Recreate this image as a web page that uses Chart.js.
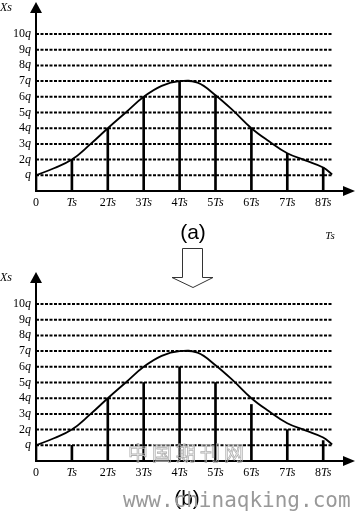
<!DOCTYPE html>
<html><head><meta charset="utf-8">
<script src="https://cdn.jsdelivr.net/npm/chart.js@4"></script>
<style>
html,body{margin:0;padding:0;background:#fff;width:355px;height:511px;overflow:hidden}
canvas{position:absolute;left:0;top:0}
</style></head><body>
<canvas id="ca" width="355" height="511"></canvas>
<canvas id="cb" width="355" height="511"></canvas>
<script>
// ---- data ----
const sampleTimes = [0, 1, 2, 3, 4, 5, 6, 7, 8];
const xTickNums = ['0', '', '2', '3', '4', '5', '6', '7', '8'];
const xTickUnit = ['', 'Ts', 'Ts', 'Ts', 'Ts', 'Ts', 'Ts', 'Ts', 'Ts'];
const yLevels = [1, 2, 3, 4, 5, 6, 7, 8, 9, 10];
const yTickNums = ['', '2', '3', '4', '5', '6', '7', '8', '9', '10'];
const yTickUnit = 'q';
const curveX = [0, 0.5, 1, 1.5, 2, 2.5, 3, 3.5, 4, 4.5, 5, 5.5, 6, 6.5, 7, 7.5, 8, 8.25];
const curveY = [1, 1.45, 2, 2.95, 4, 5, 6, 6.7, 7, 6.9, 6.1, 5.1, 4, 3.15, 2.4, 1.95, 1.5, 1.05];
const samplesA = [1, 2, 4, 6, 7, 6.1, 4, 2.4, 1.5];
const samplesB = [1, 1, 4, 5, 6, 5, 3.6, 2, 1.3];
const gridEnd = 8.25;

const SERIF = '"Liberation Serif", "DejaVu Serif", serif';

function axesPlugin(extra) {
  return {
    id: 'axesDeco',
    afterDatasetsDraw(chart) {
      const ctx = chart.ctx, xs = chart.scales.x, ys = chart.scales.y, ca = chart.chartArea;
      const x0 = xs.getPixelForValue(0), y0 = ys.getPixelForValue(0);
      ctx.save();
      ctx.strokeStyle = '#000'; ctx.fillStyle = '#000'; ctx.lineWidth = 2;
      // y axis
      ctx.beginPath(); ctx.moveTo(x0, y0 + 1); ctx.lineTo(x0, ca.top + 10); ctx.stroke();
      ctx.beginPath(); ctx.moveTo(x0, ca.top); ctx.lineTo(x0 - 6, ca.top + 11); ctx.lineTo(x0 + 6, ca.top + 11); ctx.closePath(); ctx.fill();
      // x axis
      ctx.beginPath(); ctx.moveTo(x0 - 1, y0); ctx.lineTo(ca.right - 10, y0); ctx.stroke();
      ctx.beginPath(); ctx.moveTo(ca.right, y0); ctx.lineTo(ca.right - 12, y0 - 5); ctx.lineTo(ca.right - 12, y0 + 5); ctx.closePath(); ctx.fill();
      // y tick labels
      const fUp = '12px ' + SERIF, fIt = 'italic 12px ' + SERIF;
      ctx.textBaseline = 'alphabetic';
      yLevels.forEach((l, i) => {
        const y = ys.getPixelForValue(l) + 3;
        ctx.font = fIt; const wq = ctx.measureText(yTickUnit).width;
        ctx.textAlign = 'left'; ctx.fillText(yTickUnit, 31 - wq, y);
        ctx.font = fUp; ctx.textAlign = 'right'; ctx.fillText(yTickNums[i], 31 - wq, y);
      });
      // x tick labels
      sampleTimes.forEach((t, i) => {
        const cx = xs.getPixelForValue(t), y = y0 + 15;
        ctx.font = fUp; const wn = ctx.measureText(xTickNums[i]).width;
        ctx.font = fIt; const wu = ctx.measureText(xTickUnit[i]).width;
        const sx = cx - (wn + wu) / 2;
        ctx.textAlign = 'left';
        ctx.font = fUp; ctx.fillText(xTickNums[i], sx, y);
        ctx.font = fIt; ctx.fillText(xTickUnit[i], sx + wn, y);
      });
      // axis title
      ctx.font = fIt; ctx.textAlign = 'left';
      ctx.fillText('Xs', 0, ca.top + 9);
      if (extra) extra(ctx, chart);
      ctx.restore();
    }
  };
}

function makeChart(id, samples, padTop, padBottom, extra) {
  const datasets = [];
  datasets.push({
    type: 'line', label: 'curve', data: curveX.map((x, i) => ({x, y: curveY[i]})),
    borderColor: '#000', borderWidth: 1.8, pointRadius: 0, fill: false,
    tension: 0.4, order: 1
  });
  datasets.push({
    type: 'bar', label: 'samples', data: samples.map((v, i) => ({x: sampleTimes[i], y: v})),
    backgroundColor: '#000', borderWidth: 0, barThickness: 2, grouped: false, order: 2
  });
  yLevels.forEach(l => datasets.push({
    type: 'line', label: 'g' + l, data: [{x: 0, y: l}, {x: gridEnd, y: l}],
    borderColor: '#000', borderWidth: 2, borderDash: [3, 1.5], pointRadius: 0, fill: false, order: 3
  }));
  return new Chart(document.getElementById(id), {
    type: 'line',
    data: {datasets},
    options: {
      responsive: false, animation: false, events: [],
      layout: {padding: {left: 36, right: 0, top: padTop, bottom: padBottom}},
      plugins: {legend: {display: false}, tooltip: {enabled: false}},
      scales: {
        x: {type: 'linear', min: 0, max: 8.886, display: false, offset: false},
        y: {type: 'linear', min: 0, max: 12.04, display: false}
      }
    },
    plugins: [axesPlugin(extra)]
  });
}

makeChart('ca', samplesA, 2, 320, (ctx) => {
  ctx.font = '21px "Liberation Sans", sans-serif'; ctx.textAlign = 'center';
  ctx.fillText('(a)', 193, 239);
  ctx.font = 'italic 11px ' + SERIF;
  ctx.fillText('Ts', 330, 239);
  // hollow arrow
  ctx.lineWidth = 1; ctx.strokeStyle = '#333';
  ctx.beginPath();
  ctx.moveTo(182.5, 248.5); ctx.lineTo(202.5, 248.5); ctx.lineTo(202.5, 277.5);
  ctx.lineTo(213, 277.5); ctx.lineTo(193, 287.5); ctx.lineTo(172, 277.5);
  ctx.lineTo(182.5, 277.5); ctx.closePath(); ctx.stroke();
});

makeChart('cb', samplesB, 272, 50, (ctx) => {
  ctx.textAlign = 'left';
  ctx.strokeStyle = '#b0b0b0'; ctx.lineWidth = 0.8;
  ctx.font = '20px "Noto Sans CJK SC", sans-serif';
  try { ctx.letterSpacing = '4px'; } catch (e) {}
  ctx.strokeText('中国期刊网', 128, 461);
  try { ctx.letterSpacing = '0px'; } catch (e) {}
  ctx.fillStyle = '#000';
  ctx.font = '21px "Liberation Sans", sans-serif'; ctx.textAlign = 'center';
  ctx.fillText('(b)', 187, 505);
  ctx.fillStyle = '#999'; ctx.textAlign = 'left';
  ctx.font = '21px "DejaVu Sans Mono", monospace';
  ctx.fillText('www.chinaqking.com', 123, 507);
});
</script>
</body></html>
